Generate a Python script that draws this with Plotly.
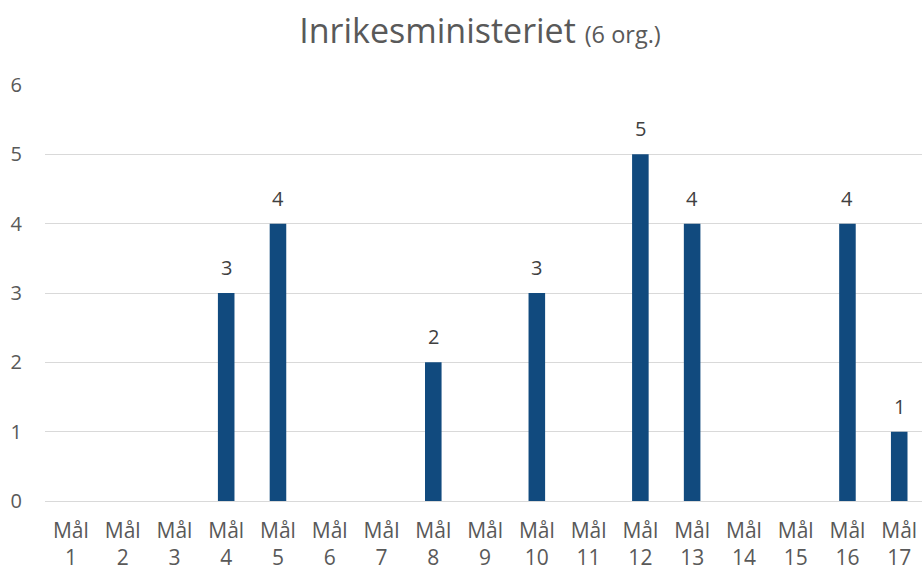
import plotly.graph_objects as go

categories = [f"Mål<br>{i}" for i in range(1, 18)]
values = [0, 0, 0, 3, 4, 0, 0, 2, 0, 3, 0, 5, 4, 0, 0, 4, 1]
y_ticks = [0, 1, 2, 3, 4, 5, 6]

FONT = "Open Sans"
fig = go.Figure(
    go.Bar(
        x=categories,
        y=values,
        marker=dict(color="#114a7e", line=dict(width=0)),
        hoverinfo="skip",
    )
)

for c, v in zip(categories, values):
    if v:
        fig.add_annotation(
            x=c, y=v, xref="x", yref="y",
            text=str(v), showarrow=False,
            yanchor="bottom", yshift=10,
            font=dict(family=FONT, size=20, color="#404040"),
        )

fig.update_layout(
    width=922,
    height=570,
    margin=dict(l=45, r=0, t=85, b=69, autoexpand=False),
    paper_bgcolor="white",
    plot_bgcolor="white",
    bargap=0.68,
    showlegend=False,
    title=dict(
        text="Inrikesministeriet <span style='font-size:23.5px'>(6 org.)</span>",
        x=480 / 922,
        xanchor="center",
        xref="container",
        y=1 - 31 / 570,
        yanchor="middle",
        yref="container",
        font=dict(family=FONT, size=34, color="#595959"),
    ),
    font=dict(family=FONT, color="#595959"),
)

fig.update_xaxes(
    range=[-0.5, 16.44],
    automargin=False,
    showgrid=False,
    showline=False,
    zeroline=False,
    ticks="",
    ticklabelstandoff=15,
    tickfont=dict(family=FONT, size=21, color="#595959"),
    fixedrange=True,
)
fig.update_yaxes(
    range=[0, 6],
    automargin=False,
    tickvals=y_ticks,
    showgrid=True,
    gridcolor="#d9d9d9",
    gridwidth=1.3,
    zeroline=True,
    zerolinecolor="#d9d9d9",
    zerolinewidth=1.3,
    showline=False,
    ticks="",
    ticklabelstandoff=22,
    tickfont=dict(family=FONT, size=20, color="#595959"),
    fixedrange=True,
)

fig.write_html(
    "out.html",
    config={"displayModeBar": False},
    post_script="document.body.style.margin='0';document.body.style.overflow='hidden';",
)
